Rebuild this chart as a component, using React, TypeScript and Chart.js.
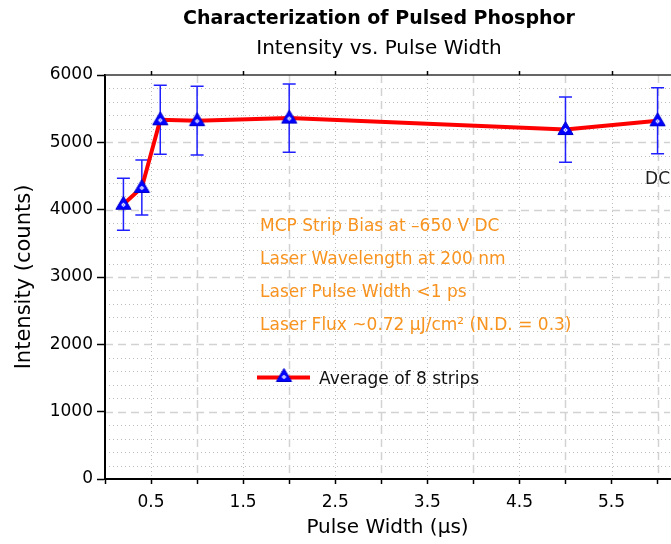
import { useEffect, useRef } from 'react';
import { Chart, registerables } from 'chart.js';

Chart.register(...registerables);

const FONT = "'DejaVu Sans', sans-serif";

const chartTitle = 'Characterization of Pulsed Phosphor';
const chartSubtitle = 'Intensity vs. Pulse Width';
const xAxisTitle = 'Pulse Width (μs)';
const yAxisTitle = 'Intensity (counts)';
const seriesLabel = 'Average of 8 strips';
const dcLabel = 'DC';

const pulseWidths = [0.2, 0.4, 0.6, 1, 2, 5, 6];
const intensity = [4080, 4330, 5335, 5322, 5360, 5190, 5320];
const errorBars = [385, 408, 512, 510, 507, 485, 490];

const xTickLabels = ['0.5', '1.5', '2.5', '3.5', '4.5', '5.5'];
const yMin = 0;
const yMax = 6000;
const yStep = 1000;
const yMinorStep = 200;
const xMin = 0;
const xMax = 6.135;
const xStep = 0.5;

const annotationLines = [
  'MCP Strip Bias at \u2013650 V DC',
  'Laser Wavelength at 200 nm',
  'Laser Pulse Width <1 ps',
  'Laser Flux ~0.72 \u03bcJ/cm\u00b2 (N.D. = 0.3)',
];

function makeMarker(): HTMLCanvasElement {
  const m = document.createElement('canvas');
  m.width = 19;
  m.height = 19;
  const c = m.getContext('2d')!;
  const cx = 9.5;
  const cy = 10;
  c.beginPath();
  c.moveTo(cx, cy - 8.5);
  c.lineTo(cx + 7.6, cy + 4.5);
  c.lineTo(cx - 7.6, cy + 4.5);
  c.closePath();
  c.fillStyle = '#0000ff';
  c.fill();
  c.lineWidth = 1;
  c.strokeStyle = '#0000cc';
  c.stroke();
  c.beginPath();
  c.moveTo(cx, cy - 2.3);
  c.lineTo(cx + 2.3, cy);
  c.lineTo(cx, cy + 2.3);
  c.lineTo(cx - 2.3, cy);
  c.closePath();
  c.fillStyle = '#ffffff';
  c.fill();
  c.fillStyle = '#4040ff';
  c.fillRect(cx - 0.6, cy - 0.6, 1.2, 1.2);
  return m;
}

export default function App() {
  const ref = useRef<HTMLCanvasElement>(null);

  useEffect(() => {
    if (!ref.current) return;
    const marker = makeMarker();

    const decor = {
      id: 'decor',
      beforeDatasetsDraw(chart: any) {
        const { ctx, chartArea: a, scales } = chart;
        const x = scales.x;
        const y = scales.y;
        const hline = (v: number) => {
          const py = Math.round(y.getPixelForValue(v)) + 0.5;
          ctx.beginPath();
          ctx.moveTo(a.left, py);
          ctx.lineTo(a.right, py);
          ctx.stroke();
        };
        const vline = (v: number) => {
          const px = Math.round(x.getPixelForValue(v)) + 0.5;
          ctx.beginPath();
          ctx.moveTo(px, a.top);
          ctx.lineTo(px, a.bottom);
          ctx.stroke();
        };
        ctx.save();
        ctx.beginPath();
        ctx.rect(a.left + 1, a.top, a.right - a.left, a.bottom - a.top - 1);
        ctx.clip();
        // minor dotted
        ctx.lineWidth = 1;
        ctx.strokeStyle = '#bdbdbd';
        ctx.setLineDash([1, 3]);
        for (let v = yMin + yMinorStep; v < yMax; v += yMinorStep) {
          if (v % yStep !== 0) hline(v);
        }
        for (let v = xMin + 0.5; v <= xMax; v += 1) vline(v);
        // major dashed
        ctx.lineWidth = 1.5;
        ctx.strokeStyle = '#d2d2d2';
        ctx.setLineDash([8, 5]);
        for (let v = yMin + yStep; v < yMax; v += yStep) hline(v);
        for (let v = xMin + 1; v <= xMax; v += 1) vline(v);
        ctx.restore();

        // top border + top ticks
        ctx.save();
        ctx.strokeStyle = '#333333';
        ctx.lineWidth = 1.5;
        ctx.beginPath();
        ctx.moveTo(a.left, a.top);
        ctx.lineTo(a.right + 2, a.top);
        ctx.stroke();
        ctx.strokeStyle = '#000';
        ctx.lineWidth = 1.5;
        for (let v = xMin + 0.5; v <= xMax; v += 1) {
          const px = Math.round(x.getPixelForValue(v)) + 0.5;
          ctx.beginPath();
          ctx.moveTo(px, a.top);
          ctx.lineTo(px, a.top - 4);
          ctx.stroke();
        }
        ctx.restore();

        // error bars
        ctx.save();
        ctx.strokeStyle = '#2020ff';
        ctx.lineWidth = 1.5;
        pulseWidths.forEach((xv, i) => {
          const px = x.getPixelForValue(xv);
          const top = y.getPixelForValue(intensity[i] + errorBars[i]);
          const bot = y.getPixelForValue(intensity[i] - errorBars[i]);
          ctx.beginPath();
          ctx.moveTo(px, top);
          ctx.lineTo(px, bot);
          ctx.moveTo(px - 6.5, top);
          ctx.lineTo(px + 6.5, top);
          ctx.moveTo(px - 6.5, bot);
          ctx.lineTo(px + 6.5, bot);
          ctx.stroke();
        });
        ctx.restore();
      },
      afterDatasetsDraw(chart: any) {
        const { ctx, scales } = chart;
        const x = scales.x;
        const y = scales.y;
        ctx.save();
        // annotations
        ctx.fillStyle = '#f7931e';
        ctx.font = `17px ${FONT}`;
        ctx.textAlign = 'left';
        ctx.textBaseline = 'alphabetic';
        annotationLines.forEach((t, i) => {
          ctx.fillText(t, 260, 231 + i * 33);
        });
        // legend
        ctx.strokeStyle = '#ff0000';
        ctx.lineWidth = 4;
        ctx.beginPath();
        ctx.moveTo(257, 377.5);
        ctx.lineTo(310, 377.5);
        ctx.stroke();
        ctx.drawImage(marker, 284 - 9.5, 377 - 10);
        ctx.fillStyle = '#111';
        ctx.font = `17px ${FONT}`;
        ctx.fillText(seriesLabel, 319, 384);
        // DC label
        const last = pulseWidths.length - 1;
        ctx.textAlign = 'center';
        ctx.fillStyle = '#222';
        ctx.fillText(dcLabel, x.getPixelForValue(pulseWidths[last]), y.getPixelForValue(intensity[last]) + 63);
        // titles
        const cw = chart.width;
        ctx.fillStyle = '#000';
        ctx.textBaseline = 'middle';
        ctx.font = `bold 19px ${FONT}`;
        ctx.fillText(chartTitle, cw / 2, 19);
        ctx.font = `20px ${FONT}`;
        ctx.fillText(chartSubtitle, cw / 2, 49);
        ctx.restore();
      },
    };

    const chart = new Chart(ref.current, {
      type: 'line',
      data: {
        datasets: [
          {
            label: seriesLabel,
            data: pulseWidths.map((xv, i) => ({ x: xv, y: intensity[i] })),
            borderColor: '#ff0000',
            backgroundColor: '#0000ff',
            borderWidth: 4,
            pointStyle: marker,
            pointRadius: 8,
            tension: 0,
            fill: false,
          },
        ],
      },
      options: {
        responsive: false,
        animation: false,
        devicePixelRatio: 1,
        layout: { padding: { top: 75, right: 88, bottom: 0, left: 0 } },
        plugins: {
          legend: { display: false },
          tooltip: { enabled: false },
          title: { display: false },
        },
        scales: {
          x: {
            type: 'linear',
            min: xMin,
            max: xMax,
            afterFit: (s: any) => {
              s.height = 65;
            },
            ticks: {
              stepSize: xStep,
              includeBounds: false,
              autoSkip: false,
              maxRotation: 0,
              padding: 8,
              color: '#000',
              font: { family: FONT, size: 17 },
              callback: (v: any) => {
                const s = Number(v).toFixed(1);
                return xTickLabels.includes(s) ? s : '';
              },
            },
            grid: {
              drawOnChartArea: false,
              drawTicks: true,
              tickLength: 5,
              tickColor: '#000',
              tickWidth: 1.5,
            },
            border: { display: true, color: '#000', width: 2 },
            title: {
              display: true,
              text: xAxisTitle,
              color: '#000',
              font: { family: FONT, size: 20 },
              padding: { top: 0, bottom: 4 },
            },
          },
          y: {
            type: 'linear',
            min: yMin,
            max: yMax,
            afterFit: (s: any) => {
              s.width = 105;
            },
            ticks: {
              stepSize: yStep,
              padding: 4,
              color: '#000',
              font: { family: FONT, size: 17 },
              callback: (v: any) => String(v),
            },
            grid: {
              drawOnChartArea: false,
              drawTicks: true,
              tickLength: 8,
              tickColor: '#000',
              tickWidth: 1.5,
            },
            border: { display: true, color: '#000', width: 2 },
            title: {
              display: true,
              text: yAxisTitle,
              color: '#000',
              font: { family: FONT, size: 21 },
              padding: { top: 12, bottom: 0 },
            },
          },
        },
      },
      plugins: [decor],
    });
    return () => chart.destroy();
  }, []);

  return (
    <div
      style={{
        position: 'fixed',
        left: 0,
        top: 0,
        width: 671,
        height: 544,
        overflow: 'hidden',
        background: '#fff',
      }}
    >
      <canvas ref={ref} width={758} height={544} style={{ display: 'block', width: 758, height: 544 }} />
    </div>
  );
}
